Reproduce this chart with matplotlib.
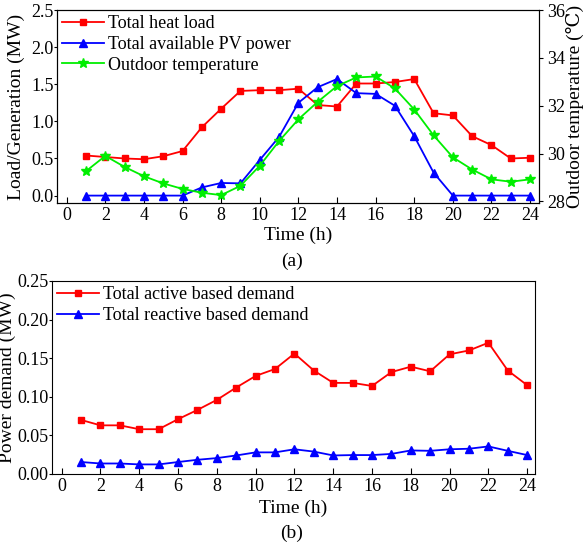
import matplotlib
matplotlib.use("Agg")
import matplotlib.pyplot as plt

plt.rcParams["font.family"] = ["Liberation Serif", "DejaVu Serif"]

hours = list(range(1, 25))

# (a) heat load, PV power (MW) and outdoor temperature (C)
heat_load = [0.54, 0.52, 0.50, 0.49, 0.53, 0.60, 0.92, 1.17, 1.41, 1.42, 1.42, 1.44,
             1.22, 1.20, 1.51, 1.51, 1.53, 1.57, 1.11, 1.08, 0.80, 0.68, 0.50, 0.51]
pv_power = [0.0, 0.0, 0.0, 0.0, 0.0, 0.0, 0.11, 0.17, 0.165, 0.48, 0.79, 1.25,
            1.46, 1.57, 1.38, 1.37, 1.21, 0.80, 0.31, 0.0, 0.0, 0.0, 0.0, 0.0]
outdoor_temp = [29.26, 29.90, 29.44, 29.05, 28.75, 28.52, 28.36, 28.26, 28.65, 29.49, 30.52, 31.43,
                32.16, 32.82, 33.18, 33.22, 32.72, 31.84, 30.76, 29.84, 29.33, 28.92, 28.82, 28.92]

# (b) active / reactive demand (MW)
active_demand = [0.070, 0.063, 0.063, 0.058, 0.058, 0.071, 0.083, 0.096, 0.112, 0.127, 0.136, 0.156,
                 0.134, 0.118, 0.118, 0.114, 0.132, 0.139, 0.133, 0.155, 0.160, 0.170, 0.134, 0.115]
reactive_demand = [0.0155, 0.0136, 0.0136, 0.0124, 0.0124, 0.0155, 0.0184, 0.0206, 0.024, 0.028, 0.028, 0.032,
                   0.029, 0.024, 0.0245, 0.0245, 0.026, 0.0305, 0.030, 0.032, 0.0327, 0.0357, 0.030, 0.0245]

RED, BLUE, GREEN = "#ff0000", "#0000ff", "#00ee00"
TICK_FS, LABEL_FS, LEG_FS = 13, 14, 13

fig = plt.figure(figsize=(5.84, 5.44), dpi=100)
ax1 = fig.add_axes([0.0976, 0.6268, 0.825, 0.3548])
ax3 = fig.add_axes([0.089, 0.1287, 0.827, 0.3548])

leg_kw = dict(loc="upper left", frameon=False, fontsize=LEG_FS,
              handlelength=2.3, borderaxespad=0.1, borderpad=0.2,
              labelspacing=0.2, handletextpad=0.25)

# ---- panel (a)
l1, = ax1.plot(hours, heat_load, color=RED, marker="s", ms=5, lw=1.3,
               label="Total heat load")
l2, = ax1.plot(hours, pv_power, color=BLUE, marker="^", ms=6, lw=1.3,
               label="Total available PV power")
ax2 = ax1.twinx()
l3, = ax2.plot(hours, outdoor_temp, color=GREEN, marker="*", ms=7, lw=1.3,
               label="Outdoor temperature")
ax1.set_xlim(-0.5, 24.45)
ax1.set_ylim(-0.1, 2.5)
ax2.set_ylim(27.93, 36)
ax1.set_xticks(range(0, 25, 2))
ax1.set_yticks([0.0, 0.5, 1.0, 1.5, 2.0, 2.5])
ax1.set_yticklabels(["0.0", "0.5", "1.0", "1.5", "2.0", "2.5"])
ax2.set_yticks([28, 30, 32, 34, 36])
ax1.tick_params(axis="x", direction="in", labelsize=TICK_FS, length=4, pad=3)
ax1.tick_params(axis="y", direction="out", labelsize=TICK_FS, length=2, pad=0.5)
ax2.tick_params(axis="y", direction="out", labelsize=TICK_FS, length=3, pad=3)
ax1.set_xlabel("Time (h)", fontsize=LABEL_FS)
ax1.xaxis.set_label_coords(0.5, -0.122)
ax1.set_ylabel("Load/Generation (MW)", fontsize=LABEL_FS)
ax1.yaxis.set_label_coords(-0.066, 0.5)
ax2.set_ylabel("Outdoor temperature (\u2103)", fontsize=LABEL_FS)
ax2.yaxis.set_label_coords(1.056, 0.5)
ax1.legend(handles=[l1, l2, l3], **leg_kw)
fig.text(0.5, 0.520, "(a)", ha="center", va="center", fontsize=LABEL_FS)

# ---- panel (b)
ax3.plot(hours, active_demand, color=RED, marker="s", ms=5, lw=1.3,
         label="Total active based demand")
ax3.plot(hours, reactive_demand, color=BLUE, marker="^", ms=6, lw=1.3,
         label="Total reactive based demand")
ax3.set_xlim(-0.5, 24.4)
ax3.set_ylim(0, 0.25)
ax3.set_xticks(range(0, 25, 2))
ax3.set_yticks([0.0, 0.05, 0.10, 0.15, 0.20, 0.25])
ax3.set_yticklabels(["0.00", "0.05", "0.10", "0.15", "0.20", "0.25"])
ax3.tick_params(axis="x", direction="in", labelsize=TICK_FS, length=4, pad=3)
ax3.tick_params(axis="y", direction="out", labelsize=TICK_FS, length=2, pad=0.5)
ax3.set_xlabel("Time (h)", fontsize=LABEL_FS)
ax3.xaxis.set_label_coords(0.5, -0.135)
ax3.set_ylabel("Power demand (MW)", fontsize=LABEL_FS)
ax3.yaxis.set_label_coords(-0.074, 0.5)
ax3.legend(**leg_kw)
fig.text(0.5, 0.0202, "(b)", ha="center", va="center", fontsize=LABEL_FS)

fig.savefig("out.png", dpi=100)
